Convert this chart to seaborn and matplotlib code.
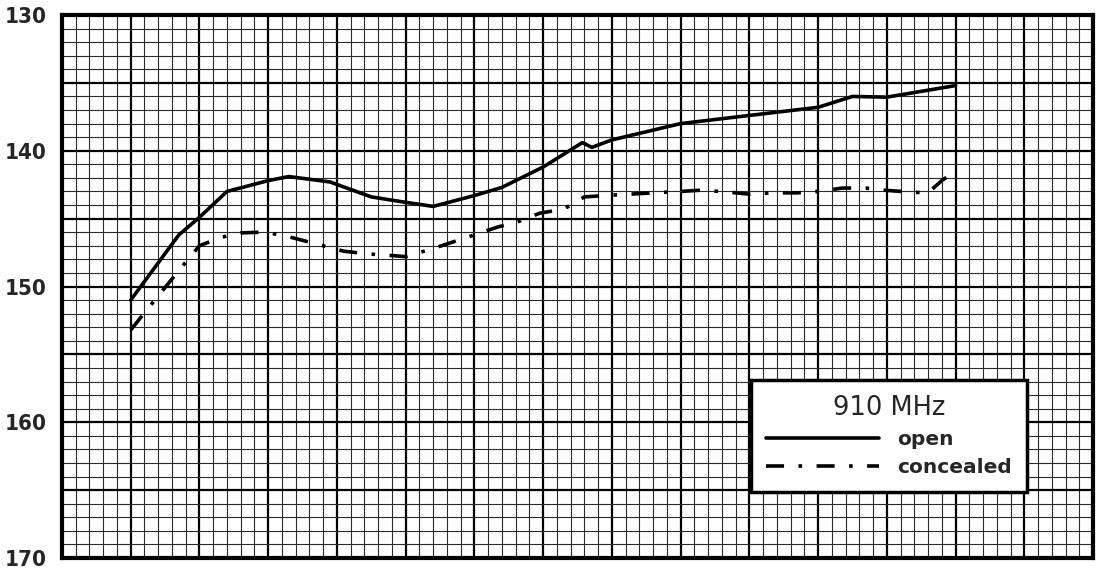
import numpy as np
import pandas as pd
import matplotlib
matplotlib.use("Agg")
import matplotlib.pyplot as plt
from matplotlib.ticker import MultipleLocator, FuncFormatter
from matplotlib.lines import Line2D
import seaborn as sns

# values (x in major grid divisions, y in the axis units)
open_x = [1.0, 1.35, 1.7, 2.0, 2.4, 3.0, 3.3, 3.9, 4.5, 5.0, 5.4, 6.0, 6.4,
          7.0, 7.57, 7.71, 8.0, 9.0, 10.0, 11.0, 11.5, 12.0, 13.0]
open_y = [151.0, 148.6, 146.2, 144.9, 143.0, 142.2, 141.9, 142.3, 143.4, 143.8,
          144.1, 143.3, 142.7, 141.2, 139.4, 139.75, 139.2, 138.0, 137.4,
          136.8, 136.0, 136.05, 135.2]

conc_x = [1.0, 1.35, 1.85, 2.0, 2.3, 2.6, 2.9, 3.2, 3.5, 3.8, 4.1, 4.45, 4.75,
          5.0, 5.4, 5.7, 6.0, 6.35, 6.6, 6.95, 7.3, 7.6, 7.9, 8.25, 8.6, 9.0,
          9.3, 9.7, 10.0, 10.35, 10.7, 11.0, 11.35, 11.7, 11.95, 12.35, 12.6,
          12.8, 13.0]
conc_y = [153.2, 151.0, 147.9, 147.0, 146.4, 146.05, 146.0, 146.2, 146.6, 147.0,
          147.4, 147.6, 147.7, 147.8, 147.2, 146.7, 146.2, 145.6, 145.3, 144.6,
          144.3, 143.4, 143.3, 143.2, 143.1, 143.0, 142.9, 143.05, 143.2, 143.1,
          143.1, 143.0, 142.75, 142.75, 142.9, 143.05, 143.1, 142.2, 141.5]

y_label_step = 10
legend_title = "910 MHz"
labels = ["open", "concealed"]

sns.set_style("white")
plt.rcParams['font.family'] = ['DejaVu Sans']

fig = plt.figure(figsize=(11, 5.76), dpi=100)
ax = fig.add_axes([62 / 1100, 18 / 576, 1031 / 1100, 543 / 576])

dashdot = (0, (5.0, 4.0, 1.0, 4.0))
df_open = pd.DataFrame({"x": open_x, "y": open_y})
df_conc = pd.DataFrame({"x": conc_x, "y": conc_y})
sns.lineplot(data=df_open, x="x", y="y", ax=ax, color="black", lw=2.6,
             sort=False, zorder=5)
sns.lineplot(data=df_conc, x="x", y="y", ax=ax, color="black", lw=2.6,
             sort=False, linestyle=dashdot, zorder=5)

ax.set_xlim(0, 15)
ax.set_ylim(170, 130)

# graph paper
ax.xaxis.set_major_locator(MultipleLocator(1))
ax.xaxis.set_minor_locator(MultipleLocator(0.2))
ax.yaxis.set_major_locator(MultipleLocator(5))
ax.yaxis.set_minor_locator(MultipleLocator(1))
ax.grid(which="major", color="black", lw=1.6)
ax.grid(which="minor", color="#2a2a2a", lw=0.8)
ax.set_axisbelow(True)

ax.xaxis.set_major_formatter(FuncFormatter(lambda v, p: ""))
ax.yaxis.set_major_formatter(
    FuncFormatter(lambda v, p: f"{int(round(v))}" if round(v) % y_label_step == 0 else ""))
ax.tick_params(which="both", length=0)
ax.tick_params(axis="y", pad=11, labelsize=16)
for lab in ax.yaxis.get_majorticklabels():
    lab.set_fontstretch("condensed")
    lab.set_fontweight("bold")
ax.set_xlabel("")
ax.set_ylabel("")

for sp in ax.spines.values():
    sp.set_visible(True)
    sp.set_color("black")
    sp.set_linewidth(3)

handles = [Line2D([], [], color="black", lw=2.6),
           Line2D([], [], color="black", lw=2.6, linestyle=dashdot)]
leg = ax.legend(handles, labels, title=legend_title, loc="lower right",
                bbox_to_anchor=(0.936, 0.1215), borderaxespad=0,
                frameon=True, fancybox=False, framealpha=1,
                edgecolor="black", handlelength=5.6, handletextpad=0.9,
                prop={"weight": "bold", "size": 14.5},
                title_fontsize=18.5, borderpad=0.75, labelspacing=0.45)
leg.get_frame().set_linewidth(2.5)
leg.set_zorder(10)

fig.savefig("out.png", dpi=100, facecolor="white")
